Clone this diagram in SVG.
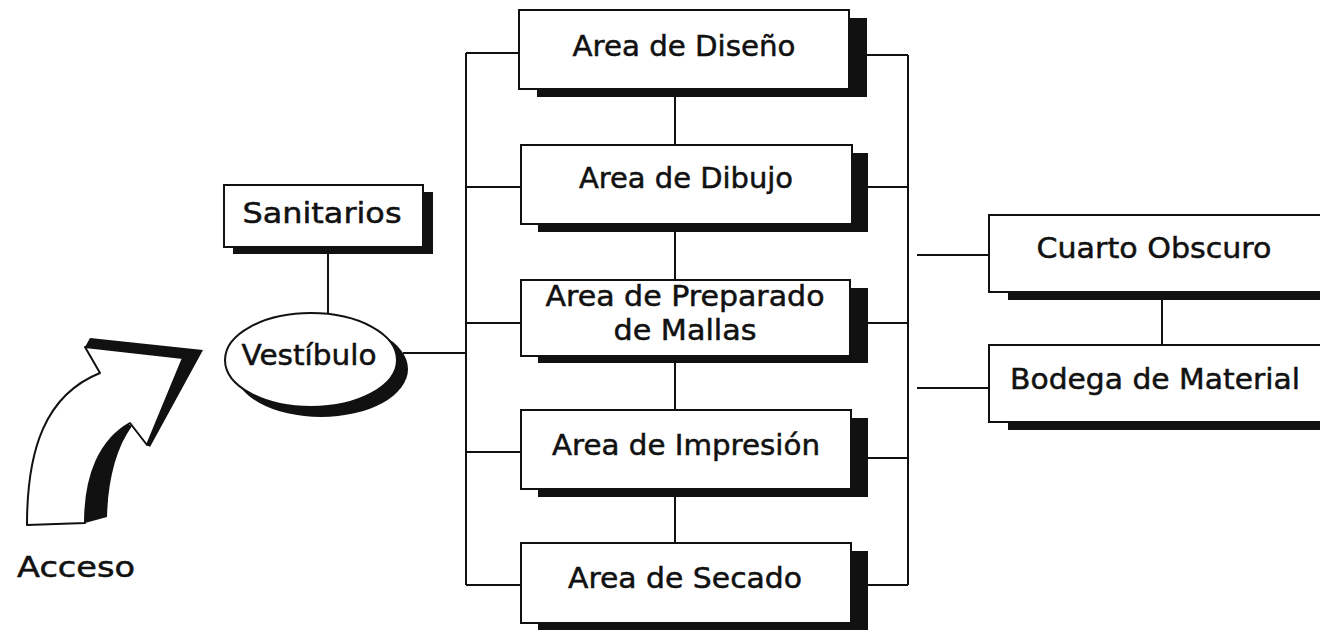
<svg xmlns="http://www.w3.org/2000/svg" width="1320" height="630" viewBox="0 0 1320 630">
<style>
.box{fill:#fff;stroke:#111;stroke-width:2}
.sh{fill:#111}
.ln{fill:none;stroke:#111;stroke-width:2}
text{font-family:"DejaVu Sans","Liberation Sans",sans-serif;font-size:28px;fill:#111;stroke:#111;stroke-width:0.5;text-anchor:middle}
</style>
<rect width="1320" height="630" fill="#fff"/>
<g id="connectors" class="ln">
<path d="M466,53 V585 M466,53 H519 M466,187 H521 M466,323 H521 M466,452 H521 M466,585 H521"/>
<path d="M908,55 V585 M867,55 H908 M868,187 H908 M868,323 H908 M868,458 H908 M868,585 H908"/>
<path d="M403,353 H466"/>
<path d="M328,253 V313"/>
<path d="M675,97 V145 M675,232 V280 M675,363 V410 M675,497 V543"/>
<path d="M917,255 H989 M917,388 H989 M1162,300 V345"/>
</g>
<g id="acceso">
<path class="sh" d="M85,347 L90,338 L203,350 L150,447 L147,445 L183,358 Z"/>
<path class="sh" d="M85,523 C85,475 100,440 126,423 L132,426 C116,448 108,480 107,517 Z"/>
<path d="M27,525 C27,450 45,395 100,373 L85,347 L183,358 L147,445 L130,423 C100,440 85,475 85,523 Z" fill="#fff" stroke="#111" stroke-width="2" stroke-linejoin="round"/>
<text x="76" y="577" textLength="118" lengthAdjust="spacingAndGlyphs">Acceso</text>
</g>
<g id="sanitarios">
<rect class="sh" x="233" y="192" width="200" height="62"/>
<rect class="box" x="224" y="185" width="199" height="62"/>
<text x="322" y="223" textLength="159" lengthAdjust="spacingAndGlyphs">Sanitarios</text>
</g>
<g id="vestibulo">
<ellipse class="sh" cx="321" cy="369" rx="87" ry="48"/>
<ellipse cx="311" cy="360" rx="86" ry="47" fill="#fff" stroke="#111" stroke-width="2"/>
<text x="309" y="365" textLength="135" lengthAdjust="spacingAndGlyphs">Vestíbulo</text>
</g>
<g id="diseno">
<rect class="sh" x="537" y="18" width="330" height="79"/>
<rect class="box" x="519" y="10" width="330" height="79"/>
<text x="684" y="56" textLength="223" lengthAdjust="spacingAndGlyphs">Area de Diseño</text>
</g>
<g id="dibujo">
<rect class="sh" x="538" y="153" width="330" height="79"/>
<rect class="box" x="521" y="145" width="331" height="79"/>
<text x="686" y="188" textLength="214" lengthAdjust="spacingAndGlyphs">Area de Dibujo</text>
</g>
<g id="preparado">
<rect class="sh" x="538" y="288" width="330" height="75"/>
<rect class="box" x="521" y="280" width="329" height="76"/>
<text x="685" y="306" textLength="279" lengthAdjust="spacingAndGlyphs">Area de Preparado</text>
<text x="685" y="340" textLength="143" lengthAdjust="spacingAndGlyphs">de Mallas</text>
</g>
<g id="impresion">
<rect class="sh" x="538" y="418" width="330" height="79"/>
<rect class="box" x="521" y="410" width="330" height="79"/>
<text x="686" y="455" textLength="268" lengthAdjust="spacingAndGlyphs">Area de Impresión</text>
</g>
<g id="secado">
<rect class="sh" x="538" y="551" width="330" height="80"/>
<rect class="box" x="521" y="543" width="330" height="80"/>
<text x="685" y="588" textLength="234" lengthAdjust="spacingAndGlyphs">Area de Secado</text>
</g>
<g id="cuarto">
<rect class="sh" x="1008" y="223" width="330" height="77"/>
<rect class="box" x="989" y="215" width="340" height="77"/>
<text x="1154" y="258" textLength="235" lengthAdjust="spacingAndGlyphs">Cuarto Obscuro</text>
</g>
<g id="bodega">
<rect class="sh" x="1008" y="353" width="330" height="77"/>
<rect class="box" x="989" y="345" width="340" height="77"/>
<text x="1155" y="389" textLength="290" lengthAdjust="spacingAndGlyphs">Bodega de Material</text>
</g>
</svg>
